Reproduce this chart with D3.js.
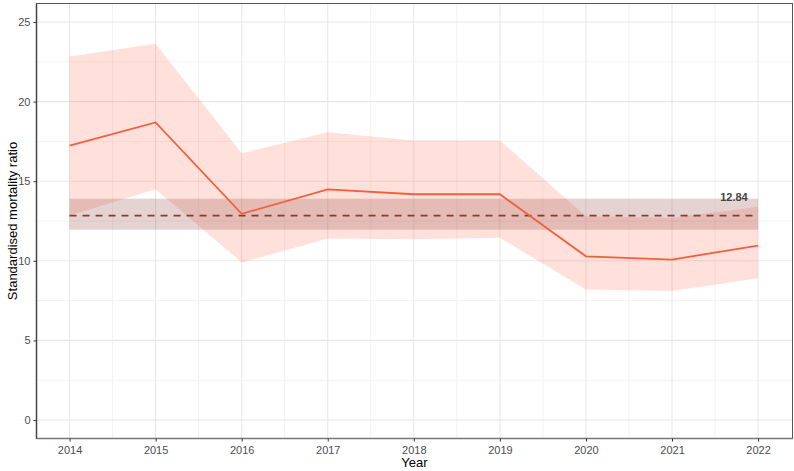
<!DOCTYPE html>
<html>
<head>
<meta charset="utf-8">
<script src="https://cdn.jsdelivr.net/npm/d3@7"></script>
<style>
	body { margin: 0; background: #fff; }
	svg { display: block; font-family: Arial, "Liberation Sans", sans-serif; }
</style>
</head>
<body>
<div id="viz-container"></div>
<script>
// chart data
var years = [2014, 2015, 2016, 2017, 2018, 2019, 2020, 2021, 2022];
var smr   = [17.24, 18.69, 12.95, 14.48, 14.18, 14.18, 10.28, 10.08, 10.96];
var lower = [12.85, 14.50, 9.90, 11.40, 11.35, 11.45, 8.20, 8.10, 8.90];
var upper = [22.83, 23.63, 16.76, 18.08, 17.56, 17.56, 12.80, 12.70, 13.40];
var meanSmr = 12.84;
var meanBand = [11.95, 13.90];
var yTicks = [0, 5, 10, 15, 20, 25];

visualize();

function visualize () {
	var W = 794, H = 471,
		pLeft = 36.5, pRight = 792.5, pTop = 3.5, pBottom = 438.5;

	var svg = d3.select('#viz-container')
		.append('svg')
		.attr('width', W)
		.attr('height', H);

	var x = d3.scaleLinear().domain([2013.616, 2022.4]).range([pLeft, pRight]);
	var y = d3.scaleLinear().domain([-1.16, 26.16]).range([pBottom, pTop]);

	var grid = svg.append('g');
	// minor grid
	grid.selectAll('.xmin')
		.data(d3.range(2013.5, 2022.5, 1).filter(function(d){ return d > 2013.616; }))
		.enter().append('line')
		.attr('x1', function(d){ return x(d); }).attr('x2', function(d){ return x(d); })
		.attr('y1', pTop).attr('y2', pBottom)
		.style('stroke', '#f2f2f2').style('stroke-width', 1);
	grid.selectAll('.ymin')
		.data([2.5, 7.5, 12.5, 17.5, 22.5])
		.enter().append('line')
		.attr('x1', pLeft).attr('x2', pRight)
		.attr('y1', function(d){ return y(d); }).attr('y2', function(d){ return y(d); })
		.style('stroke', '#f2f2f2').style('stroke-width', 1);
	// major grid
	grid.selectAll('.xmaj')
		.data(years)
		.enter().append('line')
		.attr('x1', function(d){ return x(d); }).attr('x2', function(d){ return x(d); })
		.attr('y1', pTop).attr('y2', pBottom)
		.style('stroke', '#e8e8e8').style('stroke-width', 1.1);
	grid.selectAll('.ymaj')
		.data(yTicks)
		.enter().append('line')
		.attr('x1', pLeft).attr('x2', pRight)
		.attr('y1', function(d){ return y(d); }).attr('y2', function(d){ return y(d); })
		.style('stroke', '#e8e8e8').style('stroke-width', 1.1);

	// confidence ribbon
	var area = d3.area()
		.x(function(d, i){ return x(years[i]); })
		.y0(function(d, i){ return y(lower[i]); })
		.y1(function(d, i){ return y(upper[i]); });
	svg.append('path')
		.datum(smr)
		.attr('d', area)
		.style('fill', '#ff6347')
		.style('fill-opacity', 0.2);

	// mean band
	svg.append('rect')
		.attr('x', x(years[0]))
		.attr('width', x(years[years.length-1]) - x(years[0]))
		.attr('y', y(meanBand[1]))
		.attr('height', y(meanBand[0]) - y(meanBand[1]))
		.style('fill', 'rgb(150,80,70)')
		.style('fill-opacity', 0.25);

	// mean line
	svg.append('line')
		.attr('x1', x(years[0])).attr('x2', x(years[years.length-1]))
		.attr('y1', y(meanSmr)).attr('y2', y(meanSmr))
		.style('stroke', '#8b3a2e')
		.style('stroke-width', 1.6)
		.style('stroke-dasharray', '7,6');

	// smr line
	var line = d3.line()
		.x(function(d, i){ return x(years[i]); })
		.y(function(d){ return y(d); });
	svg.append('path')
		.datum(smr)
		.attr('d', line)
		.style('fill', 'none')
		.style('stroke', '#f0603f')
		.style('stroke-width', 1.8);

	svg.append('text')
		.attr('x', x(2021.72))
		.attr('y', y(14.0))
		.attr('dy', '0.35em')
		.attr('text-anchor', 'middle')
		.style('font-size', '11px')
		.style('font-weight', 'bold')
		.style('fill', '#444')
		.text(meanSmr.toFixed(2));

	// panel border
	svg.append('rect')
		.attr('x', pLeft).attr('y', pTop)
		.attr('width', pRight - pLeft).attr('height', pBottom - pTop)
		.style('fill', 'none')
		.style('stroke', '#555')
		.style('stroke-width', 1);
	svg.append('line')
		.attr('x1', pLeft).attr('x2', pLeft).attr('y1', pTop).attr('y2', pBottom + 0.5)
		.style('stroke', '#444').style('stroke-width', 1.5);
	svg.append('line')
		.attr('x1', pLeft).attr('x2', pRight).attr('y1', pBottom).attr('y2', pBottom)
		.style('stroke', '#777').style('stroke-width', 1.5);

	// axes
	var xAxis = svg.append('g')
		.attr('transform', 'translate(0,' + pBottom + ')')
		.call(d3.axisBottom(x).tickValues(years).tickFormat(d3.format('d')).tickSize(3).tickPadding(5));
	var yAxis = svg.append('g')
		.attr('transform', 'translate(' + pLeft + ',0)')
		.call(d3.axisLeft(y).tickValues(yTicks).tickSize(3).tickPadding(3));
	[xAxis, yAxis].forEach(function(a){
		a.select('.domain').remove();
		a.selectAll('line').style('stroke', '#333');
		a.selectAll('text')
			.style('font-family', 'Arial, "Liberation Sans", sans-serif')
			.style('font-size', '11px')
			.style('fill', '#4d4d4d');
	});

	svg.append('text')
		.attr('x', (pLeft + pRight) / 2)
		.attr('y', 467)
		.attr('text-anchor', 'middle')
		.style('font-size', '13px')
		.style('fill', '#000')
		.text('Year');
	svg.append('text')
		.attr('transform', 'translate(12,' + ((pTop + pBottom) / 2) + ') rotate(-90)')
		.attr('text-anchor', 'middle')
		.attr('dy', '0.35em')
		.style('font-size', '13px')
		.style('fill', '#000')
		.text('Standardised mortality ratio');
}
</script>
</body>
</html>
